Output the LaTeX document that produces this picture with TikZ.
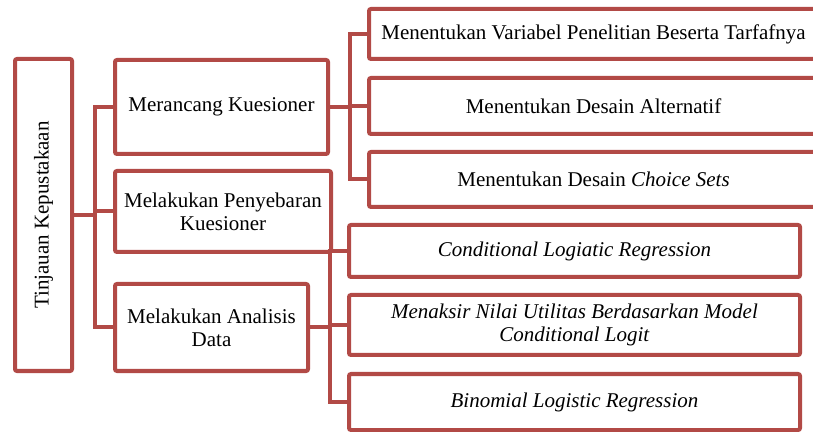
\documentclass[tikz,border=0pt]{standalone}
\usepackage{fontspec}
\setmainfont{Liberation Serif}
\usetikzlibrary{positioning}
\definecolor{boxred}{RGB}{178,74,70}

\begin{document}
\begin{tikzpicture}[x=0.5pt,y=-0.5pt,font=\fontsize{10.5}{11.5}\selectfont]
            % Define the styles for the blocks and links
            \tikzstyle{block} = [rectangle, draw=boxred, line width=2pt, rounded corners=1pt, text centered, align=center, inner sep=0pt]
            \tikzstyle{link} = [draw=boxred, line width=2pt]

            \useasboundingbox (0,0) rectangle (813,432);

            % Nodes position
            \node [block, minimum width=28.5pt, minimum height=156pt] (tinjauan) at (43.5,215) {};
            \node [rotate=90] at (tinjauan.center) {Tinjauan Kepustakaan};

            \node [block, minimum width=106.5pt, minimum height=47pt] (merancang) at (221.5,107) {Merancang Kuesioner};
            \node [block, minimum width=108pt, minimum height=40.5pt] (penyebaran) at (223,211.5) {Melakukan Penyebaran\\Kuesioner};
            \node [block, minimum width=96.5pt, minimum height=43.5pt] (analisis) at (211.5,327.5) {Melakukan Analisis\\Data};

            \node [block, minimum width=224.5pt, minimum height=25pt] (variabel) at (593.5,34) {Menentukan Variabel Penelitian Beserta Tarfafnya};
            \node [block, minimum width=224.5pt, minimum height=28pt] (alternatif) at (593.5,106) {Menentukan Desain Alternatif};
            \node [block, minimum width=224.5pt, minimum height=27.5pt] (choice) at (593.5,179.5) {Menentukan Desain \textit{Choice Sets}};

            \node [block, minimum width=225.5pt, minimum height=26pt] (conditional) at (574.5,251) {\textit{Conditional Logiatic Regression}};
            \node [block, minimum width=225.5pt, minimum height=30pt] (menaksir) at (574.5,325) {\textit{Menaksir Nilai Utilitas Berdasarkan Model}\\\textit{Conditional Logit}};
            \node [block, minimum width=225.5pt, minimum height=28pt] (binomial) at (574.5,402) {\textit{Binomial Logistic Regression}};

            % Links
            \draw[link] (tinjauan.east) -- +(21,0) |- (merancang.west);
            \draw[link] (tinjauan.east) -- +(21,0) |- (penyebaran.west);
            \draw[link] (tinjauan.east) -- +(21,0) |- (analisis.west);

            \draw[link] (merancang.east) -- +(20,0) |- (variabel.west);
            \draw[link] (merancang.east) -- +(20,0) |- (alternatif.west);
            \draw[link] (merancang.east) -- +(20,0) |- (choice.west);

            \draw[link] (analisis.east) -- +(20,0) |- (conditional.west);
            \draw[link] (analisis.east) -- +(20,0) |- (menaksir.west);
            \draw[link] (analisis.east) -- +(20,0) |- (binomial.west);
        \end{tikzpicture}
\end{document}
